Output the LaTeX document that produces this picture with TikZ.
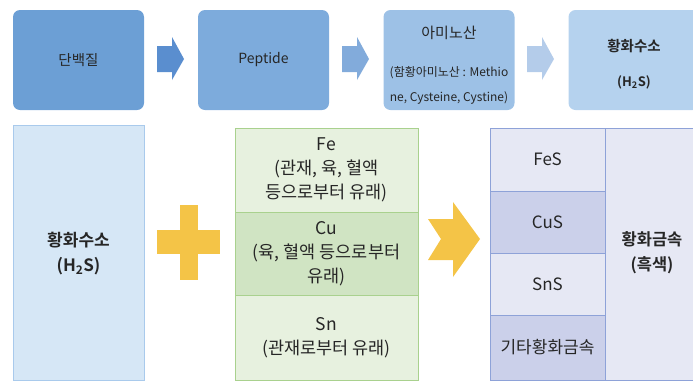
\documentclass[tikz,border=0pt]{standalone}
\usepackage{fontspec}
\setmainfont{Noto Sans CJK KR}[BoldFont={Noto Sans CJK KR Bold}]

\definecolor{azul1}{HTML}{6C9FD5}
\definecolor{azul2}{HTML}{7DABDC}
\definecolor{azul3}{HTML}{9DC1E6}
\definecolor{azul4}{HTML}{B5D2EE}
\definecolor{flecha1}{HTML}{5A8ECF}
\definecolor{flecha2}{HTML}{82ABDB}
\definecolor{flecha3}{HTML}{B4CCEA}
\definecolor{azulclaro}{HTML}{D6E7F6}
\definecolor{azulborde}{HTML}{A9CAEC}
\definecolor{amarillo}{HTML}{F4C447}
\definecolor{verdeclaro}{HTML}{E7F1DF}
\definecolor{verdemedio}{HTML}{D0E4C3}
\definecolor{verdeborde}{HTML}{A9D18E}
\definecolor{lilaclaro}{HTML}{E6E8F4}
\definecolor{lilamedio}{HTML}{CBD0EA}
\definecolor{lilaborde}{HTML}{8EA2D8}
\definecolor{texto}{HTML}{262626}

\begin{document}
\begin{tikzpicture}[x=1pt, y=-1pt,
    caja/.style={rounded corners=7pt, minimum width=131pt, minimum height=100pt,
        inner sep=0pt, text=texto},
    celda/.style={draw=verdeborde, line width=0.8pt, minimum width=183pt,
        inner sep=0pt, align=center, text=texto,
        font=\fontsize{17.5}{24}\selectfont},
    tabla/.style={draw=lilaborde, line width=0.8pt, inner sep=0pt, align=center,
        text=texto, font=\fontsize{17}{25}\selectfont}]
    \useasboundingbox (0,0) rectangle (693,381);
    \clip (0,0) rectangle (693,381);

    % Fila superior
    \node[caja, fill=azul1, font=\fontsize{14.5}{16}\selectfont] (proteina) at (78.5,60) {단백질};
    \node[caja, fill=azul2, font=\fontsize{14}{16}\selectfont] (peptido) at (263.5,60) {Peptide};
    \node[caja, fill=azul3] (aminoacido) at (449,60) {};
    \node[caja, fill=azul4] (sulfuro) at (634,60) {};

    \node[text=texto, font=\fontsize{15}{16}\selectfont] (amtitulo) at (449,33) {아미노산};
    \node[text=texto, align=center, font=\fontsize{12}{25}\selectfont] (amtexto) at (449,85)
        {(함황아미노산 : Methio\\ne, Cysteine, Cystine)};
    \node[text=texto, font=\bfseries\fontsize{14.5}{16}\selectfont] (sutitulo) at (634,46) {황화수소};
    \node[text=texto, font=\bfseries\fontsize{13}{16}\selectfont] (suformula) at (634,82) {(H\textsubscript{2}S)};

    % Flechas
    \foreach \x/\c in {157/flecha1, 342/flecha2, 527/flecha3}
        \fill[\c, shift={(\x,0)}] (0,46) -- (15,46) -- (15,37) -- (27,59)
            -- (15,80) -- (15,72) -- (0,72) -- cycle;

    % Fila inferior
    \node[draw=azulborde, fill=azulclaro, line width=0.8pt, minimum width=131pt,
        minimum height=255pt, inner sep=0pt] (h2s) at (78.5,252.5) {};
    \node[text=texto, align=center, font=\bfseries\fontsize{17}{25}\selectfont] (h2stexto) at (78.5,254)
        {황화수소\\(H\textsubscript{2}S)};

    % Signo mas
    \fill[amarillo] (180,205) rectangle (198,280);
    \fill[amarillo] (157,230) rectangle (220,254);

    % Metales
    \node[celda, fill=verdeclaro, minimum height=84pt] (hierro) at (326.5,170)
        {Fe\\(관재, 육, 혈액\\등으로부터 유래)};
    \node[celda, fill=verdemedio, minimum height=83pt] (cobre) at (326.5,253.5)
        {Cu\\(육, 혈액 등으로부터\\유래)};
    \node[celda, fill=verdeclaro, minimum height=85pt] (estano) at (326.5,337.5)
        {Sn\\(관재로부터 유래)};

    % Flecha amarilla
    \fill[amarillo] (428,219) -- (453,219) -- (453,202) -- (480,239) -- (453,277)
        -- (453,260) -- (428,260) -- (441,239) -- cycle;

    % Sulfuros metalicos
    \node[tabla, fill=lilaclaro, minimum width=115pt, minimum height=63pt] (fes) at (547.5,159.5) {FeS};
    \node[tabla, fill=lilamedio, minimum width=115pt, minimum height=62pt] (cus) at (547.5,222) {CuS};
    \node[tabla, fill=lilaclaro, minimum width=115pt, minimum height=62pt] (sns) at (547.5,284) {SnS};
    \node[tabla, fill=lilamedio, minimum width=115pt, minimum height=65pt] (otros) at (547.5,347.5) {기타황화금속};
    \node[tabla, fill=lilaclaro, minimum width=95pt, minimum height=252pt] (metalico) at (652.5,254) {};
    \node[text=texto, align=center, font=\bfseries\fontsize{16.5}{25}\selectfont] (metexto) at (652,253)
        {황화금속\\(흑색)};
\end{tikzpicture}
\end{document}
